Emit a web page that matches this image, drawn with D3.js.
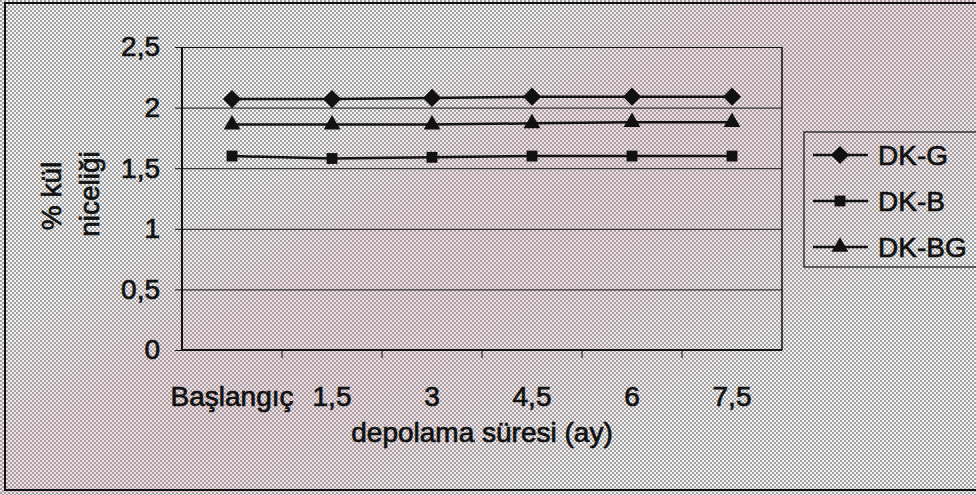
<!DOCTYPE html>
<html>
<head>
<meta charset="utf-8">
<script src="https://cdn.jsdelivr.net/npm/d3@7"></script>
<style>
  html, body { margin: 0; padding: 0; background: #fff; }
  svg { display: block; }
  text { font-family: "Liberation Sans", Arial, sans-serif; fill: #111; stroke: #111; stroke-width: 0.7px; }
</style>
</head>
<body>
<svg id="chart" width="976" height="495"></svg>
<script>
// Storage time categories (months)
const categories = ["Başlangıç", "1,5", "3", "4,5", "6", "7,5"];
// Ash content (%) per sample group
const seriesNames = ["DK-G", "DK-B", "DK-BG"];
const dkG  = [2.07, 2.07, 2.08, 2.09, 2.09, 2.09];
const dkB  = [1.60, 1.58, 1.59, 1.60, 1.60, 1.60];
const dkBG = [1.86, 1.86, 1.86, 1.87, 1.88, 1.88];
const yTicks = [0, 0.5, 1, 1.5, 2, 2.5];
const yTickLabels = ["0", "0,5", "1", "1,5", "2", "2,5"];

const series = [
  { name: seriesNames[0], values: dkG,  symbol: d3.symbolDiamond2, size: 210 },
  { name: seriesNames[1], values: dkB,  symbol: d3.symbolSquare2,  size: 150 },
  { name: seriesNames[2], values: dkBG, symbol: d3.symbolTriangle2, size: 200 }
];

const W = 976, H = 495;
const plot = { left: 182, top: 47, right: 782, bottom: 350 };

const svg = d3.select("#chart");
const defs = svg.append("defs");

// halftone screen of the background
const pat = defs.append("pattern")
  .attr("id", "screen").attr("patternUnits", "userSpaceOnUse")
  .attr("width", 4).attr("height", 4);
pat.append("rect").attr("width", 4).attr("height", 4).attr("fill", "#f2f2f2");
pat.append("rect").attr("x", 0).attr("y", 0).attr("width", 2).attr("height", 2).attr("fill", "#a2a2a2");
pat.append("rect").attr("x", 2).attr("y", 2).attr("width", 2).attr("height", 2).attr("fill", "#a2a2a2");

// faint pink tint in a band rising from lower left to upper middle
const grad = defs.append("linearGradient")
  .attr("id", "tint").attr("gradientUnits", "userSpaceOnUse")
  .attr("x1", 0).attr("y1", 0).attr("x2", 476).attr("y2", 794);
[[0.3, 0], [0.42, 0.16], [0.52, 0.18], [0.62, 0.14], [0.76, 0]].forEach(([o, a]) =>
  grad.append("stop").attr("offset", o).attr("stop-color", "#d4899f").attr("stop-opacity", a));

svg.append("rect").attr("width", W).attr("height", H).attr("fill", "url(#screen)");
svg.append("rect").attr("width", W).attr("height", H).attr("fill", "url(#tint)");

// outer frame
svg.append("path")
  .attr("d", `M${W},3 H5 V490 H${W}`)
  .attr("fill", "none").attr("stroke", "#111").attr("stroke-width", 2);

const x = d3.scaleBand().domain(categories).range([plot.left, plot.right]).padding(0);
const y = d3.scaleLinear().domain([0, 2.5]).range([plot.bottom, plot.top]);

// horizontal gridlines with outward ticks
const yAxis = d3.axisLeft(y).tickValues(yTicks)
  .tickSize(-(plot.right - plot.left)).tickPadding(22)
  .tickFormat((d, i) => yTickLabels[i]);
const gy = svg.append("g").attr("transform", `translate(${plot.left},0)`).call(yAxis);
gy.select(".domain").remove();
gy.selectAll(".tick line").attr("x1", -7).attr("stroke", "#111").attr("stroke-width", 1);
gy.selectAll(".tick text").attr("font-size", 28).attr("fill", "#111")
  .attr("font-family", "Liberation Sans, Arial, sans-serif");

// plot right border
svg.append("line").attr("x1", plot.right).attr("x2", plot.right)
  .attr("y1", plot.top).attr("y2", plot.bottom).attr("stroke", "#111").attr("stroke-width", 1.5);
// y axis line
svg.append("line").attr("x1", plot.left).attr("x2", plot.left)
  .attr("y1", plot.top).attr("y2", plot.bottom + 1).attr("stroke", "#111").attr("stroke-width", 2);

// x axis with ticks at category boundaries
const xAxis = d3.axisBottom(x).tickSize(0).tickPadding(36);
const gx = svg.append("g").attr("transform", `translate(0,${plot.bottom})`).call(xAxis);
gx.select(".domain").attr("stroke", "#111").attr("stroke-width", 2)
  .attr("d", `M${plot.left},0H${plot.right}`);
gx.selectAll(".tick text").attr("font-size", 28).attr("fill", "#111")
  .attr("font-family", "Liberation Sans, Arial, sans-serif");
svg.append("g").selectAll("line")
  .data(categories.slice(1))
  .join("line")
  .attr("x1", d => x(d)).attr("x2", d => x(d))
  .attr("y1", plot.bottom).attr("y2", plot.bottom + 8)
  .attr("stroke", "#111").attr("stroke-width", 1);

// series lines and markers
const line = d3.line().x((d, i) => x(categories[i]) + x.bandwidth() / 2).y(d => y(d));
series.forEach(s => {
  svg.append("path").datum(s.values).attr("d", line)
    .attr("fill", "none").attr("stroke", "#111").attr("stroke-width", 2.5);
  svg.append("g").selectAll("path").data(s.values).join("path")
    .attr("transform", (d, i) => `translate(${x(categories[i]) + x.bandwidth() / 2},${y(d)})`)
    .attr("d", d3.symbol().type(s.symbol).size(s.size))
    .attr("fill", "#111");
});

// axis titles
svg.append("text")
  .attr("transform", "translate(61,196) rotate(-90)")
  .attr("text-anchor", "middle").attr("font-size", 28).text("% kül");
svg.append("text")
  .attr("transform", "translate(99,194) rotate(-90)")
  .attr("text-anchor", "middle").attr("font-size", 28).text("niceliği");
svg.append("text")
  .attr("x", 482).attr("y", 442)
  .attr("text-anchor", "middle").attr("font-size", 28).text("depolama süresi (ay)");

// legend
const lg = svg.append("g");
lg.append("rect").attr("x", 804).attr("y", 132).attr("width", 180).attr("height", 135)
  .attr("fill", "none").attr("stroke", "#111").attr("stroke-width", 1.2);
series.forEach((s, i) => {
  const cy = 155 + i * 46;
  lg.append("line").attr("x1", 813).attr("x2", 868).attr("y1", cy).attr("y2", cy)
    .attr("stroke", "#111").attr("stroke-width", 2.5);
  lg.append("path").attr("transform", `translate(840,${cy})`)
    .attr("d", d3.symbol().type(s.symbol).size(s.size)).attr("fill", "#111");
  lg.append("text").attr("x", 878).attr("y", cy + 10).attr("font-size", 28).text(s.name);
});
</script>
</body>
</html>
